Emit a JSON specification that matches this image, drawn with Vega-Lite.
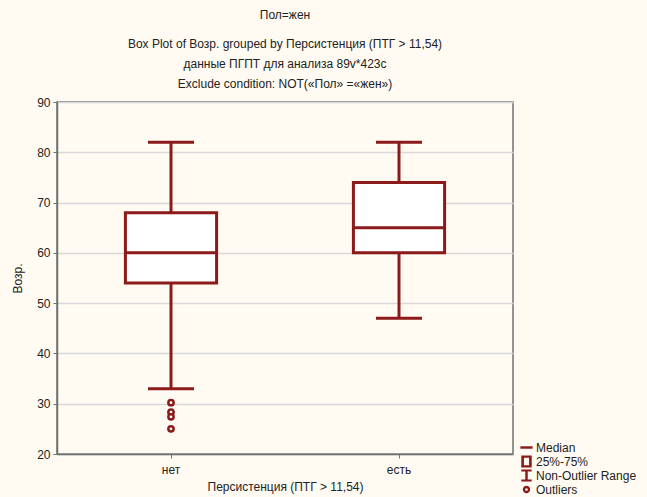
{
  "$schema": "https://vega.github.io/schema/vega-lite/v6.json",
  "autosize": "none",
  "width": 456,
  "height": 352,
  "padding": {"left": 57, "top": 102, "right": 134, "bottom": 43},
  "background": "#fffbf2",
  "title": {
    "text": "Пол=жен",
    "subtitle": ["Box Plot of Возр. grouped by  Персистенция (ПТГ >  11,54)", "данные ПГПТ для анализа 89v*423c", "Exclude condition: NOT(«Пол» =«жен»)"],
    "anchor": "middle",
    "frame": "group",
    "font": "Liberation Sans",
    "fontSize": 12,
    "fontWeight": "normal",
    "color": "#222222",
    "subtitleFont": "Liberation Sans",
    "subtitleFontSize": 12,
    "subtitleColor": "#222222",
    "subtitleLineHeight": 20,
    "subtitlePadding": 17,
    "offset": 5
  },
  "datasets": {
    "boxes": [
      {"group": "нет", "lower": 33, "q1": 54, "median": 60, "q3": 68, "upper": 82},
      {"group": "есть", "lower": 47, "q1": 60, "median": 65, "q3": 74, "upper": 82}
    ],
    "outliers": [
      {"group": "нет", "value": 30.2},
      {"group": "нет", "value": 28.3},
      {"group": "нет", "value": 27.4},
      {"group": "нет", "value": 25}
    ],
    "legend": [
      {"label": "Median"},
      {"label": "25%-75%"},
      {"label": "Non-Outlier Range"},
      {"label": "Outliers"}
    ]
  },
  "layer": [
    {
      "data": {"name": "boxes"},
      "mark": {"type": "rule", "color": "#8b1a1a", "strokeWidth": 3},
      "encoding": {
        "x": {"field": "group", "type": "nominal", "sort": ["нет", "есть"], "scale": {"domain": ["нет", "есть"]}, "title": "Персистенция (ПТГ >  11,54)"},
        "y": {"field": "lower", "type": "quantitative", "scale": {"domain": [20, 90], "nice": false, "zero": false}, "title": "Возр."},
        "y2": {"field": "upper"}
      }
    },
    {
      "data": {"name": "boxes"},
      "mark": {"type": "bar", "fill": "white", "stroke": "#8b1a1a", "strokeWidth": 3, "width": {"band": 0.4}},
      "encoding": {
        "x": {"field": "group", "type": "nominal", "sort": ["нет", "есть"]},
        "y": {"field": "q1", "type": "quantitative"},
        "y2": {"field": "q3"}
      }
    },
    {
      "data": {"name": "boxes"},
      "mark": {"type": "tick", "color": "#8b1a1a", "size": 91, "thickness": 3, "opacity": 1},
      "encoding": {
        "x": {"field": "group", "type": "nominal", "sort": ["нет", "есть"]},
        "y": {"field": "median", "type": "quantitative"}
      }
    },
    {
      "data": {"name": "boxes"},
      "mark": {"type": "tick", "color": "#8b1a1a", "size": 46, "thickness": 3, "opacity": 1},
      "encoding": {
        "x": {"field": "group", "type": "nominal", "sort": ["нет", "есть"]},
        "y": {"field": "lower", "type": "quantitative"}
      }
    },
    {
      "data": {"name": "boxes"},
      "mark": {"type": "tick", "color": "#8b1a1a", "size": 46, "thickness": 3, "opacity": 1},
      "encoding": {
        "x": {"field": "group", "type": "nominal", "sort": ["нет", "есть"]},
        "y": {"field": "upper", "type": "quantitative"}
      }
    },
    {
      "data": {"name": "outliers"},
      "mark": {"type": "point", "shape": "circle", "filled": false, "fill": "white", "fillOpacity": 1, "stroke": "#8b1a1a", "strokeWidth": 2.5, "size": 28, "opacity": 1},
      "encoding": {
        "x": {"field": "group", "type": "nominal", "sort": ["нет", "есть"]},
        "y": {"field": "value", "type": "quantitative"}
      }
    },
    {
      "data": {"name": "legend"},
      "mark": {"type": "point", "filled": true, "color": "#8b1a1a", "opacity": 0, "size": 150},
      "encoding": {
        "shape": {
          "field": "label",
          "type": "nominal",
          "scale": {
            "domain": ["Median", "25%-75%", "Non-Outlier Range", "Outliers"],
            "range": [
              "M-1,-0.2H1V0.2H-1Z",
              "M-0.85,-1H0.85V1H-0.85Z M-0.42,-0.6V0.6H0.42V-0.6Z",
              "M-0.85,-1H0.85V-0.64H0.2V0.64H0.85V1H-0.85V0.64H-0.2V-0.64H-0.85Z",
              "M0,-0.6A0.6,0.6 0 1,1 0,0.6A0.6,0.6 0 1,1 0,-0.6Z M0,-0.22A0.22,0.22 0 1,0 0,0.22A0.22,0.22 0 1,0 0,-0.22Z"
            ]
          },
          "legend": {
            "title": null,
            "orient": "none",
            "legendX": 463,
            "legendY": 339,
            "symbolOpacity": 1,
            "symbolFillColor": "#8b1a1a",
            "symbolStrokeWidth": 0,
            "symbolSize": 150,
            "labelFont": "Liberation Sans",
            "labelFontSize": 12,
            "labelColor": "#222222",
            "labelOffset": 3,
            "rowPadding": 1,
            "padding": 0
          }
        }
      }
    }
  ],
  "config": {
    "view": {"stroke": "#707070", "strokeWidth": 1.5, "fill": "white"},
    "scale": {"bandPaddingInner": 0, "bandPaddingOuter": 0},
    "axis": {
      "labelFont": "Liberation Sans",
      "labelFontSize": 12,
      "labelColor": "#222222",
      "titleFont": "Liberation Sans",
      "titleFontSize": 12,
      "titleFontWeight": "normal",
      "titleColor": "#222222",
      "domainColor": "#707070",
      "domainWidth": 1.5,
      "tickColor": "#707070",
      "tickSize": 4
    },
    "axisX": {"labelAngle": 0, "labelPadding": 6, "titlePadding": 6, "grid": false, "domain": true},
    "axisY": {"grid": true, "gridColor": "#d8d8d8", "gridWidth": 1.5, "titlePadding": 12, "labelPadding": 3, "values": [20, 30, 40, 50, 60, 70, 80, 90]}
  }
}
